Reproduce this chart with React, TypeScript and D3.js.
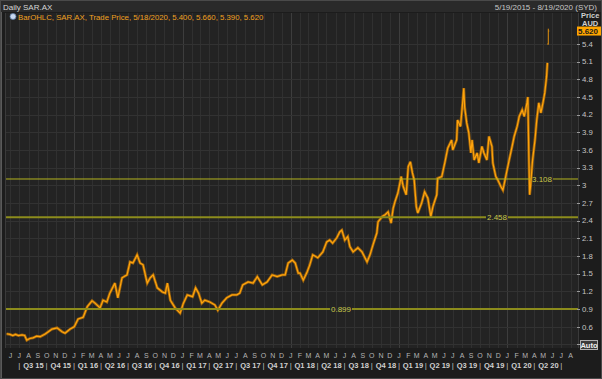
import React from 'react';
import * as d3 from 'd3';

const W = 602;
const H = 379;

const priceDates = [
  '2015-05-19','2015-05-30','2015-06-09','2015-06-18','2015-06-28','2015-07-10','2015-07-19','2015-07-26',
  '2015-08-05','2015-08-16','2015-08-28','2015-09-09','2015-09-26','2015-10-08','2015-10-19','2015-11-05',
  '2015-11-22','2015-12-02','2015-12-19','2016-01-02','2016-01-15','2016-02-01','2016-02-15','2016-03-02',
  '2016-03-12','2016-03-29','2016-04-08','2016-04-21','2016-05-01','2016-05-18','2016-05-28','2016-06-11',
  '2016-06-28','2016-07-08','2016-07-18','2016-08-01','2016-08-11','2016-08-21','2016-09-04','2016-09-14',
  '2016-09-24','2016-10-08','2016-10-25','2016-11-04','2016-11-11','2016-11-21','2016-12-07','2016-12-24',
  '2017-01-04','2017-01-17','2017-02-04','2017-02-14','2017-02-24','2017-03-07','2017-03-17','2017-04-03',
  '2017-04-20','2017-04-30','2017-05-14','2017-05-30','2017-06-17','2017-07-03','2017-07-13','2017-07-23',
  '2017-08-10','2017-08-27','2017-09-10','2017-09-27','2017-10-13','2017-10-30','2017-11-16','2017-12-03',
  '2017-12-13','2017-12-23','2018-01-06','2018-01-16','2018-01-26','2018-02-01','2018-02-12','2018-02-25',
  '2018-03-06','2018-03-16','2018-04-02','2018-04-19','2018-05-02','2018-05-12','2018-05-22','2018-06-05',
  '2018-06-15','2018-06-22','2018-07-02','2018-07-12','2018-07-19','2018-07-30','2018-08-15','2018-08-29',
  '2018-09-08','2018-09-15','2018-09-25','2018-10-05','2018-10-18','2018-10-22','2018-11-05','2018-11-15',
  '2018-11-25','2018-12-05','2018-12-12','2018-12-18','2018-12-28','2019-01-08','2019-01-15','2019-01-25',
  '2019-02-01','2019-02-08','2019-02-15','2019-02-21','2019-02-28','2019-03-05','2019-03-18','2019-03-28',
  '2019-04-08','2019-04-18','2019-04-25','2019-05-08','2019-05-11','2019-05-25','2019-06-04','2019-06-14',
  '2019-06-27','2019-07-01','2019-07-14','2019-07-17','2019-07-27','2019-08-04','2019-08-07','2019-08-10',
  '2019-08-17','2019-08-24','2019-08-31','2019-09-04','2019-09-11','2019-09-21','2019-09-27','2019-10-07',
  '2019-10-14','2019-10-24','2019-10-31','2019-11-10','2019-11-13','2019-11-23','2019-11-30','2019-12-10',
  '2019-12-17','2019-12-24','2019-12-31','2020-01-07','2020-01-17','2020-01-24','2020-02-03','2020-02-10',
  '2020-02-20','2020-02-27','2020-03-07','2020-03-10','2020-03-13','2020-03-16','2020-03-19','2020-03-26',
  '2020-04-03','2020-04-09','2020-04-16','2020-04-23','2020-04-30','2020-05-06','2020-05-12','2020-05-15',
];

const priceCloses = [
  0.48, 0.47, 0.45, 0.47, 0.45, 0.46, 0.45, 0.37,
  0.40, 0.41, 0.44, 0.43, 0.475, 0.52, 0.56, 0.58,
  0.515, 0.49, 0.56, 0.60, 0.73, 0.76, 0.94, 1.04,
  1.00, 0.92, 1.05, 1.02, 1.17, 1.34, 1.09, 1.43,
  1.48, 1.70, 1.68, 1.82, 1.68, 1.65, 1.34, 1.43,
  1.48, 1.26, 1.19, 1.17, 1.34, 1.05, 0.92, 0.83,
  1.00, 1.14, 1.11, 1.26, 1.17, 1.00, 1.05, 1.02,
  0.97, 0.88, 1.00, 1.09, 1.14, 1.14, 1.17, 1.31,
  1.36, 1.34, 1.45, 1.31, 1.36, 1.48, 1.45, 1.48,
  1.48, 1.68, 1.73, 1.68, 1.51, 1.51, 1.39, 1.53,
  1.65, 1.82, 1.77, 1.87, 2.04, 2.07, 2.02, 2.11,
  2.21, 2.24, 2.07, 2.13, 1.96, 1.87, 1.94, 1.87,
  1.77, 1.70, 1.82, 1.99, 2.19, 2.38, 2.47, 2.50,
  2.55, 2.36, 2.61, 2.72, 2.87, 3.15, 2.98, 2.84,
  3.32, 3.40, 3.21, 3.09, 2.64, 2.53, 2.70, 2.89,
  2.78, 2.47, 2.64, 2.84, 3.12, 3.15, 3.38, 3.63,
  3.77, 3.60, 3.77, 4.11, 4.00, 4.45, 4.65, 4.33,
  4.06, 3.89, 3.55, 3.77, 3.43, 3.55, 3.38, 3.66,
  3.55, 3.43, 3.83, 3.66, 3.38, 3.15, 3.09, 2.98,
  2.92, 3.09, 3.26, 3.43, 3.66, 3.83, 4.00, 4.17,
  4.28, 4.17, 4.40, 4.50, 3.60, 2.84, 2.98, 3.43,
  3.77, 4.11, 4.40, 4.23, 4.40, 4.57, 4.84, 5.08,
];

// last OHLC bar (from legend)
const lastDate = '2020-05-18';
const lastOpen = 5.4;
const lastHigh = 5.66;
const lastLow = 5.39;
const lastClose = 5.62;

const yTickValues = [0.3, 0.6, 0.9, 1.2, 1.5, 1.8, 2.1, 2.4, 2.7, 3.0, 3.3, 3.6, 3.9, 4.2, 4.5, 4.8, 5.1, 5.4];
const yTickLabels = ['', '0.6', '0.9', '1.2', '1.5', '1.8', '2.1', '2.4', '2.7', '3', '3.3', '3.6', '3.9', '4.2', '4.5', '4.8', '5.1', '5.4'];

const levelValues = [0.899, 2.458, 3.108];
const levelLabels = ['0.899', '2.458', '3.108'];

const monthLetters = ['J', 'F', 'M', 'A', 'M', 'J', 'J', 'A', 'S', 'O', 'N', 'D'];
const quarterLabels = [
  'Q3 15', 'Q4 15', 'Q1 16', 'Q2 16', 'Q3 16', 'Q4 16', 'Q1 17', 'Q2 17', 'Q3 17', 'Q4 17',
  'Q1 18', 'Q2 18', 'Q3 18', 'Q4 18', 'Q1 19', 'Q2 19', 'Q3 19', 'Q4 19', 'Q1 20', 'Q2 20',
];

const headerTitle = 'Daily SAR.AX';
const headerRange = '5/19/2015 - 8/19/2020 (SYD)';
const legendText = 'BarOHLC, SAR.AX, Trade Price, 5/18/2020, 5.400, 5.660, 5.390, 5.620';

const FONT = '"Liberation Sans", Arial, sans-serif';

export default function App() {
  const parse = d3.timeParse('%Y-%m-%d');
  const start = parse('2015-05-19') as Date;
  const end = parse('2020-08-19') as Date;

  const plotL = 6, plotR = 578, plotT = 13, plotB = 348;

  const x = d3.scaleTime().domain([start, end]).range([6.6, 575.9]);
  const y = d3.scaleLinear().domain([0.6, 5.4]).range([326.7, 44.0]);

  const data = priceDates.map((d, i) => ({ date: parse(d) as Date, v: priceCloses[i] }));
  const line = d3.line<{ date: Date; v: number }>().x((d) => x(d.date)).y((d) => y(d.v));
  const path = line(data) || '';

  const months = d3.timeMonth.range(d3.timeMonth.ceil(start), end);
  const quarters = months.filter((m) => m.getMonth() % 3 === 0);

  const levelLabelX = [341, 497, 542];

  const lx = x(parse(lastDate) as Date);

  return (
    <svg width={W} height={H} style={{ position: 'absolute', left: 0, top: 0, display: 'block' }} fontFamily={FONT}>
      <defs>
        <clipPath id="plotclip">
          <rect x={plotL} y={plotT} width={plotR - plotL} height={plotB - plotT} />
        </clipPath>
      </defs>
      {/* outer */}
      <rect x={0} y={0} width={W} height={H} fill="#1c1c1c" />
      <rect x={0.5} y={0.5} width={W - 1} height={H - 1} fill="none" stroke="#4a4a4a" />
      <line x1={1.5} x2={1.5} y1={12} y2={H - 1} stroke="#5a5a5a" />
      {/* header */}
      <rect x={1} y={1} width={W - 2} height={11} fill="#2a2a2a" />
      <text x={3} y={9.5} fontSize={8} fill="#d6d6d6">{headerTitle}</text>
      <text x={597} y={9.5} fontSize={8} fill="#c8c8c8" textAnchor="end">{headerRange}</text>

      {/* plot bg */}
      <rect x={plotL} y={plotT} width={plotR - plotL} height={plotB - plotT} fill="#232323" />
      <line x1={plotL - 0.5} x2={plotL - 0.5} y1={plotT} y2={plotB} stroke="#3a3a3a" />
      <g clipPath="url(#plotclip)">
        {months.map((m, i) => (
          <line key={'vg' + i} x1={Math.round(x(m)) + 0.5} x2={Math.round(x(m)) + 0.5} y1={plotT} y2={plotB}
            stroke={m.getMonth() === 0 ? '#3d3d3d' : '#303030'} strokeWidth={1} />
        ))}
        {yTickValues.map((v, i) => (
          <line key={'hg' + i} x1={plotL} x2={plotR} y1={Math.round(y(v)) + 0.5} y2={Math.round(y(v)) + 0.5}
            stroke="#323232" strokeWidth={1} />
        ))}
        {/* price */}
        <path d={path} fill="none" stroke="#9a620e" strokeWidth={2.8} strokeLinejoin="miter" strokeMiterlimit={3} />
        <path d={path} fill="none" stroke="#ffa40c" strokeWidth={1.2} strokeLinejoin="miter" strokeMiterlimit={3} />
        <line x1={lx} x2={lx} y1={y(lastHigh)} y2={y(lastLow)} stroke="#e09010" strokeWidth={1} />
        <line x1={lx - 1} x2={lx} y1={y(lastOpen)} y2={y(lastOpen)} stroke="#e09010" strokeWidth={1} />
        <line x1={lx} x2={lx + 1} y1={y(lastClose)} y2={y(lastClose)} stroke="#e09010" strokeWidth={1} />
        {/* level lines */}
        {levelValues.map((v, i) => {
          const yy = y(v);
          const cx = levelLabelX[i];
          const thick = i < 2;
          const col = thick ? '#8c8c1c' : '#b4b41e';
          return (
            <g key={'lv' + i}>
              <line x1={plotL} x2={cx - 11} y1={yy} y2={yy} stroke={col} strokeWidth={thick ? 2 : 1} />
              <line x1={cx + 11} x2={plotR} y1={yy} y2={yy} stroke={col} strokeWidth={thick ? 2 : 1} />
              <text x={cx} y={yy + 3} fontSize={8} fill="#c8c84a" textAnchor="middle">{levelLabels[i]}</text>
            </g>
          );
        })}
      </g>
      {/* legend */}
      <circle cx={13} cy={16.5} r={3} fill="#c8d8f0" stroke="#5a7aa0" strokeWidth={0.8} />
      <text x={18} y={19.5} fontSize={7.8} fill="#f0a020">{legendText}</text>

      {/* right axis */}
      <line x1={plotR + 0.5} x2={plotR + 0.5} y1={plotT} y2={plotB} stroke="#3a3a3a" />
      {yTickValues.map((v, i) => (
        <g key={'yt' + i}>
          <line x1={plotR - 1} x2={plotR + 2} y1={Math.round(y(v)) + 0.5} y2={Math.round(y(v)) + 0.5} stroke="#9a9a9a" />
          {yTickLabels[i] && (
            <text x={582} y={y(v) + 2.8} fontSize={7.8} fill="#c4c4c4">{yTickLabels[i]}</text>
          )}
        </g>
      ))}
      <text x={581} y={18} fontSize={7.5} fill="#d0d0d0" fontWeight="bold">Price</text>
      <text x={582} y={26} fontSize={7.5} fill="#d0d0d0" fontWeight="bold">AUD</text>
      <rect x={577} y={y(lastClose) - 4.5} width={24} height={9} fill="#ffa500" />
      <text x={578} y={y(lastClose) + 3} fontSize={8} fill="#1a1a1a" fontWeight="bold">{lastClose.toFixed(3)}</text>
      {/* Auto button */}
      <rect x={580.5} y={340.5} width={17} height={9} fill="#3a3a3a" stroke="#b0b0b0" />
      <text x={589} y={348} fontSize={7.5} fill="#f0f0f0" fontWeight="bold" textAnchor="middle">Auto</text>

      {/* x axis */}
      {months.map((m, i) => (
        <text key={'ml' + i} x={x(m)} y={358} fontSize={7} fill="#b4b4b4" textAnchor="middle">
          {monthLetters[m.getMonth()]}
        </text>
      ))}
      {quarters.map((q, i) => (
        <text key={'qs' + i} x={x(q)} y={367.5} fontSize={8} fill="#c0c0c0" textAnchor="middle">|</text>
      ))}
      {quarters.slice(0, -1).map((q, i) => {
        const next = quarters[i + 1];
        return (
          <text key={'ql' + i} x={(x(q) + x(next)) / 2 + 0.5} y={367.5} fontSize={7.5} fill="#d0d0d0"
            fontWeight="bold" textAnchor="middle">{quarterLabels[i]}</text>
        );
      })}
    </svg>
  );
}
